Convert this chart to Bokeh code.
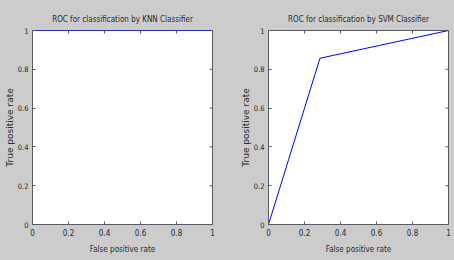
import math
from bokeh.plotting import figure
from bokeh.layouts import row
from bokeh.models import Range1d, FixedTicker
from bokeh.embed import file_html
from bokeh.resources import INLINE

# Data
knn_fpr = [0.0, 0.0, 1.0]
knn_tpr = [0.0, 1.0, 1.0]
svm_fpr = [0.0, 0.286, 1.0]
svm_tpr = [0.0, 0.857, 1.0]
tick_values = [0, 0.2, 0.4, 0.6, 0.8, 1]
tick_labels = ["0", "0.2", "0.4", "0.6", "0.8", "1"]
titles = ["ROC for classification by KNN Classifier", "ROC for classification by SVM Classifier"]
x_label = "False positive rate"
y_label = "True positive rate"

BG = "#cccccc"
FONT = "DejaVu Sans Condensed"
TXT = "#2a2a2a"
AX = "#5a5a66"
overrides = {v: l for v, l in zip(tick_values, tick_labels)}


def make_fig(title, fpr, tpr, width, left, right):
    p = figure(width=width, height=260, x_range=Range1d(0, 1), y_range=Range1d(0, 1),
               output_backend="svg", toolbar_location=None,
               min_border_left=left, min_border_right=right,
               min_border_top=30, min_border_bottom=36,
               background_fill_color="white", border_fill_color=BG,
               outline_line_color=AX)
    p.title.text = title
    p.title.align = "center"
    p.title.text_font = FONT
    p.title.text_font_size = "8px"
    p.title.text_font_style = "normal"
    p.title.text_color = TXT
    p.title.standoff = 14
    p.grid.visible = False
    for ax in p.xaxis + p.yaxis:
        ax.ticker = FixedTicker(ticks=tick_values)
        ax.major_label_overrides = overrides
        ax.major_tick_in = 3
        ax.major_tick_out = 0
        ax.minor_tick_line_color = None
        ax.axis_line_color = AX
        ax.major_tick_line_color = AX
        ax.major_label_text_font = FONT
        ax.major_label_text_font_size = "8px"
        ax.major_label_text_color = TXT
        ax.axis_label_text_font = FONT
        ax.axis_label_text_font_size = "8px"
        ax.axis_label_text_font_style = "normal"
        ax.axis_label_text_color = TXT
    p.xaxis.major_label_standoff = 4
    p.xaxis.axis_label_standoff = 6
    p.yaxis.major_label_standoff = 4
    p.yaxis.axis_label_standoff = 0
    p.yaxis.major_label_text_font_size = "7.5px"
    p.xaxis.axis_label = x_label
    p.yaxis.axis_label = y_label
    p.yaxis.axis_label_text_font = "DejaVu Sans"
    p.yaxis.axis_label_text_font_size = "9px"
    # inward ticks on top and right edges (box on)
    p.ray(x=tick_values, y=[1] * len(tick_values), length=3, length_units="screen",
          angle=-math.pi / 2, line_color=AX, line_width=1)
    p.ray(x=[1] * len(tick_values), y=tick_values, length=3, length_units="screen",
          angle=math.pi, line_color=AX, line_width=1)
    p.line(fpr, tpr, line_color="#0000ff", line_width=1)
    return p


p1 = make_fig(titles[0], knn_fpr, knn_tpr, 236, 32, 24)
p2 = make_fig(titles[1], svm_fpr, svm_tpr, 218, 32, 6)
layout = row(p1, p2)

html = file_html(layout, INLINE)
html = html.replace("</head>", "<style>body{background:#cccccc;}</style></head>", 1)
open("out.html", "w").write(html)
